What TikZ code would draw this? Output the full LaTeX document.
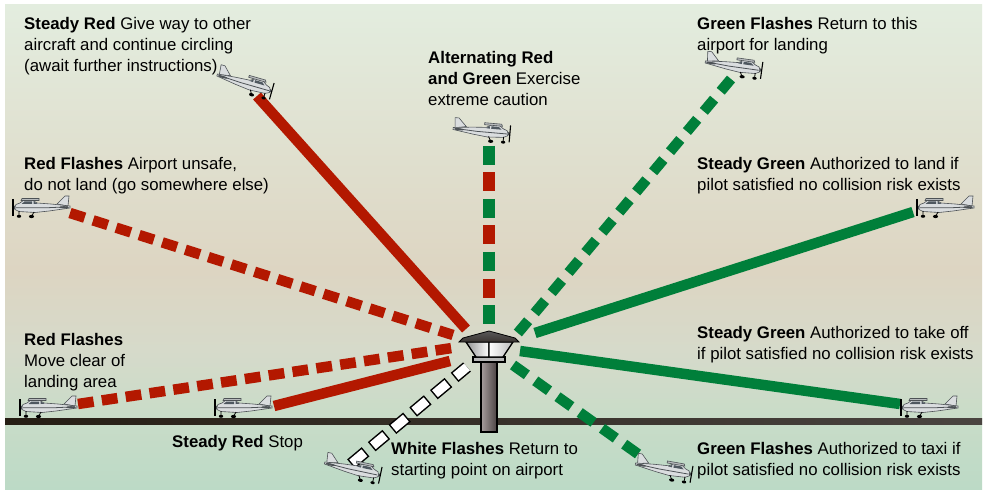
\documentclass[tikz,border=0pt]{standalone}
\usepackage{fontspec}
\setmainfont{Liberation Sans}
\definecolor{bgtop}{HTML}{E3EDDF}
\definecolor{bgmid}{HTML}{DDD5C2}
\definecolor{bgmid2}{HTML}{D6DACA}
\definecolor{bglow}{HTML}{C9DCC8}
\definecolor{bgbot}{HTML}{BCDAC6}
\definecolor{redb}{HTML}{B31800}
\definecolor{greenb}{HTML}{007F3A}
\definecolor{groundl}{HTML}{261E14}
\definecolor{groundr}{HTML}{4A4440}
\definecolor{shaftl}{HTML}{A89E9E}
\definecolor{shaftr}{HTML}{4A4242}
\definecolor{roofc}{HTML}{3A3431}
\definecolor{planebody}{HTML}{DADDDF}
\definecolor{planeedge}{HTML}{4D5256}
\definecolor{planewin}{HTML}{4F5860}
\pgfdeclareverticalshading{bgshade}{100bp}{color(0bp)=(bgbot); color(25bp)=(bgbot); color(32.6bp)=(bglow); color(39.4bp)=(bgmid2); color(47.6bp)=(bgmid); color(75bp)=(bgtop); color(100bp)=(bgtop)}
\tikzset{
  txt/.style={anchor=north west, inner sep=0pt, align=left, font=\fontsize{16.8}{20.7}\selectfont},
  solidbeam/.style={line width=10.5pt},
  redflash/.style={redb, line width=10.5pt},
  greenflash/.style={greenb, line width=10.5pt, dash pattern=on 16pt off 10.3pt},
  towerline/.style={draw=black, line width=1.3pt},
  planeline/.style={draw=planeedge, line width=0.6pt},
  plane/.pic={
    % tail fin
    \filldraw[planeline, fill=planebody] (-27,-1) -- (-28,-11) -- (-24,-11) -- (-16,-3) -- cycle;
    % fuselage
    \filldraw[planeline, fill=planebody] (-29,-1) -- (-10,-3) -- (4,-4) -- (9,-7) -- (17,-7) -- (21,-4) -- (25,-2.5) -- (26,0) -- (26,2.5) -- (22,4.5) -- (6,5.5) -- (-8,4) -- (-29,1) -- cycle;
    % wing
    \filldraw[planeline, fill=planebody!85!black] (2,-8.5) -- (19,-8.5) -- (20,-6.5) -- (2,-6.5) -- cycle;
    % windows
    \fill[planewin] (9,-5.5) -- (16.5,-5.5) -- (19.5,-3) -- (9,-3) -- cycle;
    \fill[planewin] (3.5,-3.3) -- (7.5,-5.5) -- (7.5,-3) -- cycle;
    % stripe
    \draw[planeedge, line width=0.8pt] (-27,-0.2) -- (-5,0.8) -- (25,0.8);
    % stabilizer
    \fill[planeedge] (-23,0.3) ellipse [x radius=5pt, y radius=1.1pt];
    % spinner and propeller
    \fill[planeedge] (26,-1.5) -- (28.5,0.5) -- (26,2.5) -- cycle;
    \draw[black, line width=1.1pt] (28,-8) -- (28,9);
    % landing gear
    \draw[black, line width=0.8pt] (7,5) -- (9,8.5) (22,4) -- (22,8);
    \fill[black] (9.5,9.5) ellipse [x radius=2.6pt, y radius=1.6pt];
    \fill[black] (22,9.3) ellipse [x radius=2.2pt, y radius=1.5pt];
  }
}
\begin{document}
\begin{tikzpicture}[x=1pt,y=-1pt]
\useasboundingbox (0,0) rectangle (987,494);
\fill[white] (0,0) rectangle (987,494);
\shade[shading=bgshade] (5,5) rectangle (982,489);

% ground
\shade[left color=groundl, right color=groundr] (5,418) rectangle (982,424);

% beam end points
\coordinate (b1s) at (257,96);  \coordinate (b1e) at (466,329);
\coordinate (b2s) at (70,213);  \coordinate (b2e) at (453,335);
\coordinate (b3s) at (78,404);  \coordinate (b3e) at (452,348);
\coordinate (b4s) at (274,406); \coordinate (b4e) at (450,361);
\coordinate (b5s) at (351,464); \coordinate (b5e) at (467,367);
\coordinate (b6s) at (489.2,146); \coordinate (b6e) at (489.2,324);
\coordinate (b7s) at (731,79);  \coordinate (b7e) at (517,334);
\coordinate (b8s) at (913,212); \coordinate (b8e) at (535,333);
\coordinate (b9s) at (520,351); \coordinate (b9e) at (900,404);
\coordinate (b10s) at (513,365); \coordinate (b10e) at (638,454);

% red beams
\draw[redb, solidbeam] (b1s) -- (b1e);
\draw[redflash, dash pattern=on 15.4pt off 8.8pt] (b2s) -- (b2e);
\draw[redflash, dash pattern=on 15.8pt off 8.3pt] (b3s) -- (b3e);
\draw[redb, solidbeam] (b4s) -- (b4e);
% white flashes
\draw[black, line width=12pt, dash pattern=on 19pt off 8pt] (b5s) -- (b5e);
\draw[white, line width=9pt, dash pattern=on 16pt off 11pt, dash phase=25.5pt] (b5s) -- (b5e);
% alternating red and green
\draw[greenb, line width=11.7pt, dash pattern=on 19pt off 34pt] (b6s) -- (b6e);
\draw[redb, line width=11.7pt, dash pattern=on 19pt off 34pt, dash phase=26.5pt] (b6s) -- (b6e);
% green beams
\draw[greenflash] (b7s) -- (b7e);
\draw[greenb, solidbeam] (b8s) -- (b8e);
\draw[greenb, solidbeam] (b9s) -- (b9e);
\draw[greenflash, dash pattern=on 17pt off 10.3pt] (b10s) -- (b10e);

% tower
\draw[towerline, left color=shaftl, right color=shaftr] (481,362) rectangle (497,432);
\draw[towerline, fill=gray!55] (473,357) rectangle (505,362);
\draw[towerline, left color=gray!85, right color=white] (466,342) -- (489,342) -- (489,357) -- (476,357) -- cycle;
\draw[towerline, left color=white, right color=gray!55] (489,342) -- (513,342) -- (503,357) -- (489,357) -- cycle;
\draw[black, line width=0.8pt, top color=gray!70!black, bottom color=roofc] (459,342) -- (463,338) -- (489,331) -- (515,338) -- (519,342) -- cycle;

% planes
\pic (p1) [rotate=-16] at (245,83) {plane};
\pic (p2) [xscale=-1] at (41,207) {plane};
\pic (p3) [xscale=-1] at (48,407) {plane};
\pic (p4) [xscale=-1] at (243,407) {plane};
\pic (p5) [rotate=-12] at (353,469) {plane};
\pic (p6) [rotate=-5] at (482,131) {plane};
\pic (p7) [rotate=-8] at (734,66) {plane};
\pic (p8) [xscale=-1] at (945,207) {plane};
\pic (p9) [xscale=-1] at (929,407) {plane};
\pic (p10) [rotate=-10] at (664,469) {plane};

% labels
\node[txt] (t1) at (24,17.5) {\textbf{Steady Red} Give way to other\\aircraft and continue circling\\(await further instructions)};
\node[txt] (t2) at (24,157.5) {\textbf{Red Flashes} Airport unsafe,\\do not land (go somewhere else)};
\node[txt] (t3) at (24,333.5) {\textbf{Red Flashes}\\Move clear of\\landing area};
\node[txt] (t4) at (172,435) {\textbf{Steady Red} Stop};
\node[txt] (t5) at (428,51.5) {\textbf{Alternating Red}\\\textbf{and Green} Exercise\\extreme caution};
\node[txt] (t6) at (697,17.5) {\textbf{Green Flashes} Return to this\\airport for landing};
\node[txt] (t7) at (697,157) {\textbf{Steady Green} Authorized to land if\\pilot satisfied no collision risk exists};
\node[txt] (t8) at (697,326.5) {\textbf{Steady Green} Authorized to take off\\if pilot satisfied no collision risk exists};
\node[txt] (t9) at (697,442) {\textbf{Green Flashes} Authorized to taxi if\\pilot satisfied no collision risk exists};
\node[txt] (t10) at (391,442) {\textbf{White Flashes} Return to\\starting point on airport};
\end{tikzpicture}
\end{document}
